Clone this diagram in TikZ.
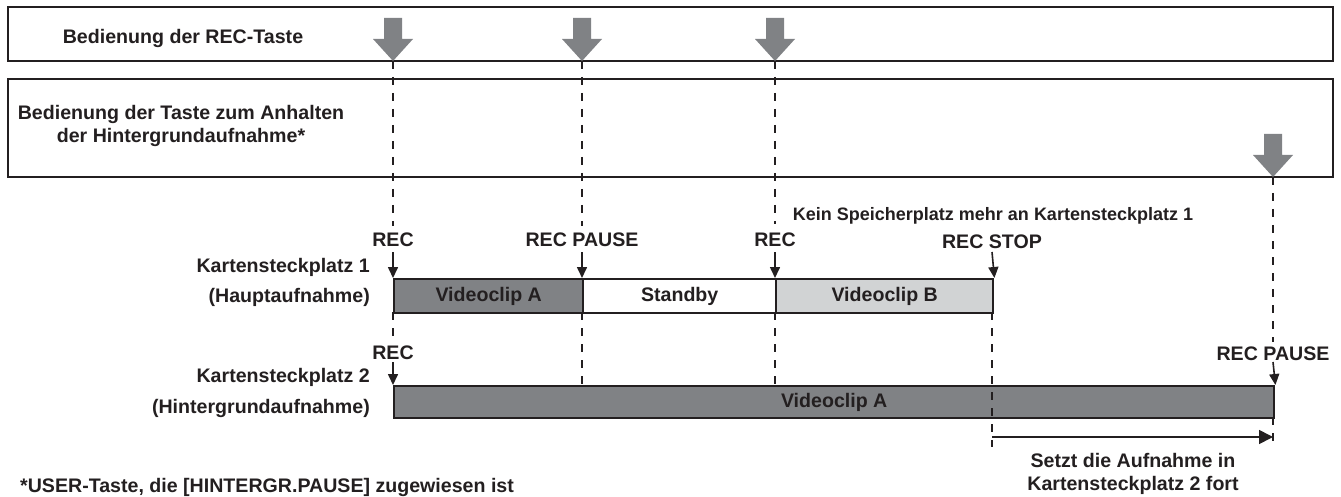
\documentclass[tikz,border=0pt]{standalone}
\usepackage{fontspec}
\setmainfont{Liberation Sans}
\usetikzlibrary{arrows.meta}
\definecolor{ink}{HTML}{231F20}
\definecolor{darkbar}{HTML}{808285}
\definecolor{lightbar}{HTML}{D1D3D4}
\definecolor{bigarrow}{HTML}{808285}
\tikzset{
  lbl/.style={font=\bfseries\fontsize{19.6}{23}\selectfont, text=ink, inner sep=0pt},
  panel/.style={draw=ink, line width=1.3pt},
  barbox/.style={draw=ink, line width=2.4pt, inner sep=0pt, anchor=north west,
     font=\bfseries\fontsize{19.6}{23}\selectfont, text=ink},
  guide/.style={draw=ink, line width=2.3pt, dash pattern=on 8pt off 8pt},
  tickarrow/.style={draw=ink, line width=1.6pt, -{Triangle[length=11pt,width=10pt]}},
  spanarrow/.style={draw=ink, line width=1.6pt, -{Triangle[length=14pt,width=14pt]}},
  press/.style={fill=bigarrow}
}
\begin{document}
\begin{tikzpicture}[x=1pt,y=-1pt]
\useasboundingbox (0,0) rectangle (1341,497);
% panels
\draw[panel] (8,7) rectangle (1333,61);
\draw[panel] (8,79) rectangle (1333,177);
\node[lbl] (op1) at (183,38) {Bedienung der REC-Taste};
\node[lbl, align=center] (op2) at (181,126) {Bedienung der Taste zum Anhalten\\der Hintergrundaufnahme*};
% event coordinates (tips of big arrows)
\coordinate (a1) at (393,61);
\coordinate (a2) at (582,61);
\coordinate (a3) at (775,61);
\coordinate (a4) at (1273,177);
% big grey arrows
\foreach \c in {a1,a2,a3,a4}{
  \fill[press, shift={(\c)}] (-9,-43) -- (9,-43) -- (9,-22) -- (20,-22) -- (0,0) -- (-20,-22) -- (-9,-22) -- cycle;
}
% bars slot 1
\node[barbox, fill=darkbar, minimum width=189pt, minimum height=34pt] (clipA) at (393,278) {Videoclip A};
\node[barbox, fill=white, minimum width=193pt, minimum height=34pt] (standby) at (582,278) {Standby};
\node[barbox, fill=lightbar, minimum width=217pt, minimum height=34pt] (clipB) at (775,278) {Videoclip B};
% bar slot 2
\node[barbox, fill=darkbar, minimum width=880pt, minimum height=32pt] (clipA2) at (393,385) {Videoclip A};
% labels
\node[lbl] (rec1) at (393,240) {REC};
\node[lbl] (pause1) at (582,240) {REC PAUSE};
\node[lbl] (rec2) at (775,240) {REC};
\node[lbl, font=\bfseries\fontsize{18}{22}\selectfont] (full) at (993,216) {Kein Speicherplatz mehr an Kartensteckplatz 1};
\node[lbl] (stop) at (992,242) {REC STOP};
\node[lbl] (rec3) at (393,353) {REC};
\node[lbl] (pause2) at (1273,354) {REC PAUSE};
\node[lbl, anchor=east] (s1a) at (370,267) {Kartensteckplatz 1};
\node[lbl, anchor=east] (s1b) at (370,297) {(Hauptaufnahme)};
\node[lbl, anchor=east] (s2a) at (370,377) {Kartensteckplatz 2};
\node[lbl, anchor=east] (s2b) at (370,408) {(Hintergrundaufnahme)};
% coordinates for guides
\coordinate (g1a) at (393,226);
\coordinate (g1b) at (393,312);
\coordinate (g1c) at (393,337);
\coordinate (g2a) at (582,226);
\coordinate (g2b) at (582,312);
\coordinate (g2c) at (582,385);
\coordinate (g3a) at (775,224);
\coordinate (g3b) at (775,312);
\coordinate (g3c) at (775,385);
\coordinate (g4b) at (992,312);
\coordinate (g4c) at (992,447);
\coordinate (g5a) at (1273,342);
\coordinate (g5b) at (1273,417);
\coordinate (g5c) at (1273,447);
% dashed guides
\draw[guide] (a1) -- (g1a);
\draw[guide] (g1b) -- (g1c);
\draw[guide] (a2) -- (g2a);
\draw[guide] (g2b) -- (g2c);
\draw[guide] (a3) -- (g3a);
\draw[guide] (g3b) -- (g3c);
\draw[guide] (g4b) -- (g4c);
\draw[guide] (a4) -- (g5a);
\draw[guide] (g5b) -- (g5c);
% small arrows
\coordinate (t1) at (393,252);
\coordinate (t2) at (582,252);
\coordinate (t3) at (775,252);
\coordinate (t4) at (992,252);
\coordinate (t5) at (393,362);
\coordinate (t6) at (1273,362);
\draw[tickarrow] (t1) -- (clipA.north west);
\draw[tickarrow] (t2) -- (standby.north west);
\draw[tickarrow] (t3) -- (clipB.north west);
\draw[tickarrow] (t4) -- (clipB.north east);
\draw[tickarrow] (t5) -- (clipA2.north west);
\draw[tickarrow] (t6) -- (clipA2.north east);
% continuation arrow
\coordinate (c1) at (992,437);
\coordinate (c2) at (1273,437);
\draw[spanarrow] (c1) -- (c2);
\node[lbl, align=center] (cont) at (1133,474) {Setzt die Aufnahme in\\Kartensteckplatz 2 fort};
\node[lbl, anchor=west] (foot) at (20,487) {*USER-Taste, die [HINTERGR.PAUSE] zugewiesen ist};
\end{tikzpicture}
\end{document}
